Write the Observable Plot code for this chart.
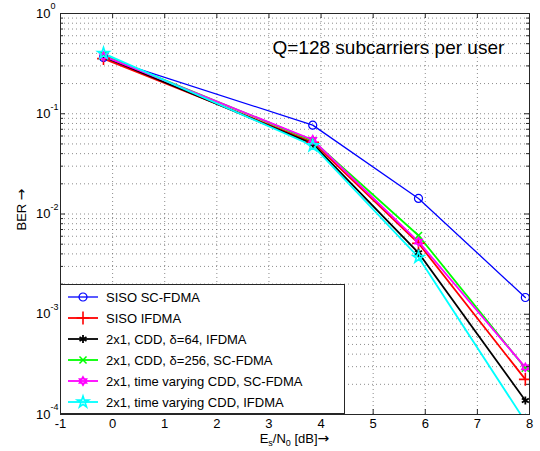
<!DOCTYPE html>
<html><head><meta charset="utf-8">
<script src="https://cdn.jsdelivr.net/npm/d3@7"></script>
<script src="https://cdn.jsdelivr.net/npm/@observablehq/plot@0.6"></script>
<style>
body{margin:0;background:#fff}
#chart svg{font-family:"Liberation Sans",Arial,Helvetica,sans-serif;background:#fff}
</style>
</head><body><div id="chart"></div>
<script>
// ---- data ----
const esn0 = [-0.175, 3.84, 5.87, 7.92];
const seriesNames = [
  "SISO SC-FDMA",
  "SISO IFDMA",
  "2x1, CDD, \u03b4=64, IFDMA",
  "2x1, CDD, \u03b4=256, SC-FDMA",
  "2x1, time varying CDD, SC-FDMA",
  "2x1, time varying CDD, IFDMA"
];
const berSisoScfdma   = [0.363, 0.077, 0.0143, 0.00147];
const berSisoIfdma    = [0.355, 0.052, 0.0051, 0.000224];
const berCdd64Ifdma   = [0.370, 0.050, 0.0041, 0.000138];
const berCdd256Scfdma = [0.385, 0.054, 0.0061, 0.00029];
const berTvCddScfdma  = [0.375, 0.055, 0.0053, 0.000295];
const berTvCddIfdma   = [0.400, 0.048, 0.0037, 0.000085];
const berSeries = [berSisoScfdma, berSisoIfdma, berCdd64Ifdma, berCdd256Scfdma, berTvCddScfdma, berTvCddIfdma];

const xTicks = [-1, 0, 1, 2, 3, 4, 5, 6, 7, 8];
const yDecades = [1e-4, 1e-3, 1e-2, 1e-1, 1];
const yExponents = ["-4", "-3", "-2", "-1", "0"];
const titleText = "Q=128 subcarriers per user";

// ---- styles ----
const symbolHexagram = {
  draw(ctx, size) {
    const r = Math.sqrt(size / Math.PI) * 1.15, ri = r * 0.577;
    for (let i = 0; i < 12; i++) {
      const a = -Math.PI / 2 + i * Math.PI / 6, rr = i % 2 ? ri : r;
      const px = rr * Math.cos(a), py = rr * Math.sin(a);
      i ? ctx.lineTo(px, py) : ctx.moveTo(px, py);
    }
    ctx.closePath();
  }
};
const styles = [
  {color: "#0000ff", width: 1.3, symbol: d3.symbolCircle,   r: 4.0, fill: "none", sw: 1.2},
  {color: "#ff0000", width: 1.8, symbol: d3.symbolPlus,     r: 4.2, fill: "none", sw: 1.6},
  {color: "#000000", width: 1.8, symbol: d3.symbolAsterisk, r: 3.8, fill: "none", sw: 1.8},
  {color: "#00ff00", width: 1.8, symbol: d3.symbolTimes,    r: 3.3, fill: "none", sw: 1.5},
  {color: "#ff00ff", width: 1.8, symbol: symbolHexagram,    r: 3.4, fill: "none", sw: 1.8},
  {color: "#00ffff", width: 1.8, symbol: d3.symbolStar,     r: 3.6, fill: "none", sw: 1.6}
];

const table = [];
seriesNames.forEach((name, s) => esn0.forEach((x, i) => table.push({series: name, s, x, ber: berSeries[s][i]})));

const W = 540, H = 451, mL = 60, mR = 11, mT = 13, mB = 37;
const innerW = W - mL - mR, innerH = H - mT - mB;
const yMinor = yDecades.slice(0, -1).flatMap(d => d3.range(2, 10).map(k => k * d));
const yGrid = yDecades.concat(yMinor);
const gridStyle = {stroke: "#666", strokeOpacity: 0.75, strokeDasharray: "1,3", strokeWidth: 1};
const axisColor = "#262626";

const marks = [
  Plot.ruleX(xTicks, {x: d => d, ...gridStyle}),
  Plot.ruleY(yGrid, {y: d => d, ...gridStyle}),
  Plot.text([titleText], {frameAnchor: "top-left", dx: 212, dy: 27, fontSize: 19, textAnchor: "start", fill: "#000"})
];
seriesNames.forEach((name, s) => {
  const st = styles[s];
  const rows = table.filter(d => d.s === s);
  marks.push(Plot.line(rows, {x: "x", y: "ber", stroke: st.color, strokeWidth: st.width, clip: true}));
});
seriesNames.forEach((name, s) => {
  const st = styles[s];
  const rows = table.filter(d => d.s === s);
  marks.push(Plot.dot(rows, {x: "x", y: "ber", symbol: () => st.symbol, r: st.r, stroke: st.color, fill: st.fill, strokeWidth: st.sw, clip: true}));
});
marks.push(
  Plot.frame({stroke: axisColor, strokeWidth: 1}),
  Plot.tickX(xTicks, {x: d => d, insetTop: innerH - 5, stroke: axisColor}),
  Plot.tickX(xTicks, {x: d => d, insetBottom: innerH - 5, stroke: axisColor}),
  Plot.tickY(yDecades, {y: d => d, insetRight: innerW - 5, stroke: axisColor}),
  Plot.tickY(yDecades, {y: d => d, insetLeft: innerW - 5, stroke: axisColor}),
  Plot.tickY(yMinor, {y: d => d, insetRight: innerW - 3, stroke: axisColor}),
  Plot.tickY(yMinor, {y: d => d, insetLeft: innerW - 3, stroke: axisColor}),
  Plot.text(xTicks, {x: d => d, frameAnchor: "bottom", dy: 13, text: d => String(d), fontSize: 13, fill: "#000"}),
  Plot.text(yDecades, {y: d => d, frameAnchor: "left", dx: -10, text: () => "10", textAnchor: "end", fontSize: 13, fill: "#000"}),
  Plot.text(yDecades, {y: d => d, frameAnchor: "left", dx: -10, dy: -7, text: (d, i) => yExponents[i], textAnchor: "start", fontSize: 9, fill: "#000"})
);

const chart = Plot.plot({
  width: W, height: H,
  marginLeft: mL, marginRight: mR, marginTop: mT, marginBottom: mB,
  x: {domain: [-1, 8], axis: null},
  y: {type: "log", domain: [1e-4, 1], axis: null},
  marks
});
document.getElementById("chart").appendChild(chart);

const svg = d3.select(chart);
const arrowFont = "DejaVu Sans, sans-serif";

// ---- x label with subscripts ----
const xl = svg.append("text").attr("x", mL + innerW / 2).attr("y", 443)
  .attr("text-anchor", "middle").attr("font-size", 13).attr("fill", "#000");
xl.append("tspan").text("E");
xl.append("tspan").attr("font-size", 9).attr("dy", 3).text("s");
xl.append("tspan").attr("dy", -3).text("/N");
xl.append("tspan").attr("font-size", 9).attr("dy", 3).text("0");
xl.append("tspan").attr("dy", -3).text(" [dB]");
xl.append("tspan").attr("font-family", arrowFont).attr("font-size", 14).text("\u2192");

// ---- y label ----
const yl = svg.append("text").attr("transform", `translate(26,${(mT + H - mB) / 2 - 4}) rotate(-90)`)
  .attr("text-anchor", "middle").attr("font-size", 13).attr("fill", "#000");
yl.append("tspan").text("BER ");
yl.append("tspan").attr("font-family", arrowFont).attr("font-size", 14).text("\u2192");

// ---- legend ----
const lg = svg.append("g");
const lx0 = mL, ly0 = 284, lw = 284, lh = H - mB - 284;
lg.append("rect").attr("x", lx0 + 0.5).attr("y", ly0 + 0.5).attr("width", lw).attr("height", lh - 1)
  .attr("fill", "#fff").attr("stroke", axisColor);
seriesNames.forEach((name, s) => {
  const st = styles[s];
  const yy = ly0 + 13 + s * 21;
  lg.append("line").attr("x1", lx0 + 8).attr("x2", lx0 + 38).attr("y1", yy).attr("y2", yy)
    .attr("stroke", st.color).attr("stroke-width", st.width);
  lg.append("path").attr("transform", `translate(${lx0 + 23},${yy})`)
    .attr("d", d3.symbol().type(st.symbol).size(Math.PI * st.r * st.r)())
    .attr("stroke", st.color).attr("fill", st.fill).attr("stroke-width", st.sw);
  lg.append("text").attr("x", lx0 + 46).attr("y", yy).attr("dy", "0.35em")
    .attr("text-anchor", "start").attr("font-size", 13).attr("fill", "#000").text(name);
});
</script>
</body></html>
